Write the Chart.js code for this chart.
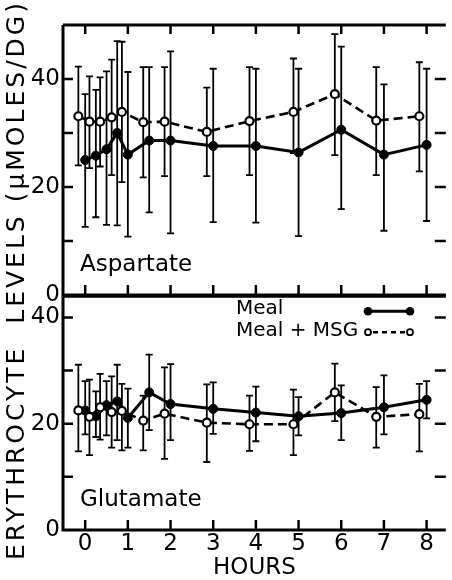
<!DOCTYPE html>
<html>
<head>
    <title>Erythrocyte aspartate and glutamate</title>
    <script src="https://cdn.jsdelivr.net/npm/chart.js"></script>
    <style>
        body {
            margin: 0;
            background-color: #ffffff;
        }
        #wrap {
            position: relative;
            width: 452px;
            height: 580px;
            overflow: hidden;
            background: #fff;
        }
        canvas {
            position: absolute;
            left: 0;
        }
        #topChart { top: 0; }
        #botChart { top: 290px; }
        #yTitle {
            position: absolute;
            left: -274px;
            top: 265px;
            width: 580px;
            line-height: 30px;
            text-align: center;
            white-space: nowrap;
            font-family: "DejaVu Sans", sans-serif;
            font-size: 25px;
            letter-spacing: 3px;
            color: #000;
            transform: rotate(-90deg);
        }
    </style>
</head>
<body>
<div id="wrap">
    <canvas id="topChart" width="452" height="310"></canvas>
    <canvas id="botChart" width="452" height="290"></canvas>
    <div id="yTitle">ERYTHROCYTE&nbsp;&nbsp;LEVELS (μMOLES/DG)</div>
</div>

<script>
    // hours (MSG points are drawn slightly to the left, as in the figure)
    const mealHours = [0, 0.25, 0.5, 0.75, 1, 1.5, 2, 3, 4, 5, 6, 7, 8];
    const msgHours = [-0.16, 0.1, 0.35, 0.62, 0.86, 1.36, 1.86, 2.85, 3.85, 4.88, 5.85, 6.82, 7.83];

    // Aspartate
    const aspMeal   = [25.0, 25.8, 27.0, 30.0, 26.0, 28.6, 28.6, 27.6, 27.6, 26.4, 30.6, 26.0, 27.8];
    const aspMealLo = [12.6, 14.4, 13.0, 12.9, 10.8, 15.3, 11.4, 13.5, 13.4, 10.9, 15.9, 11.9, 13.7];
    const aspMealHi = [37.2, 38.0, 41.4, 47.0, 41.3, 42.2, 45.1, 41.9, 41.9, 41.9, 46.0, 39.0, 41.9];
    const aspMsg    = [33.1, 32.1, 32.1, 32.9, 33.9, 32.0, 32.1, 30.2, 32.2, 33.9, 37.2, 32.3, 33.1];
    const aspMsgLo  = [24.0, 23.5, 23.8, 22.2, 20.9, 21.8, 22.0, 22.0, 22.2, 26.3, 25.9, 22.2, 22.9];
    const aspMsgHi  = [42.3, 40.5, 40.3, 43.6, 46.9, 42.2, 42.2, 38.4, 42.2, 43.8, 48.3, 42.2, 43.1];

    // Glutamate
    const gluMeal   = [22.5, 21.4, 23.5, 24.2, 21.1, 25.9, 23.7, 22.8, 22.1, 21.4, 22.0, 23.1, 24.5];
    const gluMealLo = [18.0, 17.5, 17.8, 16.9, 15.5, 18.8, 16.9, 18.1, 16.7, 17.8, 16.9, 18.0, 21.0];
    const gluMealHi = [28.0, 26.1, 28.0, 31.1, 26.6, 33.0, 31.2, 27.8, 27.0, 25.0, 27.2, 29.1, 28.0];
    const gluMsg    = [22.5, 21.3, 23.1, 22.2, 22.4, 20.6, 21.9, 20.2, 19.9, 19.9, 25.9, 21.3, 21.8];
    const gluMsgLo  = [14.8, 14.1, 17.0, 15.5, 15.0, 15.0, 13.4, 12.8, 14.9, 14.1, 20.5, 15.5, 14.8];
    const gluMsgHi  = [31.1, 28.3, 29.4, 28.9, 27.5, 25.3, 30.6, 27.4, 25.3, 26.4, 31.3, 26.9, 27.5];

    const xTicks = [0, 1, 2, 3, 4, 5, 6, 7, 8];
    const yLabels = [0, 20, 40];
    const yMinor = [10, 20, 30, 40];

    const FONT = 'DejaVu Sans';

    function series(label, hours, vals, lo, hi, filled) {
        return {
            label,
            data: hours.map((h, i) => ({ x: h, y: vals[i] })),
            errLo: lo,
            errHi: hi,
            showLine: true,
            borderColor: '#000',
            borderWidth: filled ? 3 : 2.6,
            borderDash: filled ? [] : [9, 5],
            pointRadius: filled ? 4.5 : 4,
            pointBorderWidth: filled ? 1 : 2.2,
            pointBackgroundColor: filled ? '#000' : '#fff',
            pointBorderColor: '#000'
        };
    }

    const errorBars = {
        id: 'errorBars',
        beforeDatasetsDraw(chart) {
            const { ctx, scales: { x, y } } = chart;
            ctx.save();
            ctx.strokeStyle = '#000';
            ctx.lineWidth = 1.8;
            chart.data.datasets.forEach(ds => {
                ds.data.forEach((p, i) => {
                    const px = x.getPixelForValue(p.x);
                    const y1 = y.getPixelForValue(ds.errLo[i]);
                    const y2 = y.getPixelForValue(ds.errHi[i]);
                    ctx.beginPath();
                    ctx.moveTo(px, y1); ctx.lineTo(px, y2);
                    ctx.moveTo(px - 3.5, y1); ctx.lineTo(px + 3.5, y1);
                    ctx.moveTo(px - 3.5, y2); ctx.lineTo(px + 3.5, y2);
                    ctx.stroke();
                });
            });
            ctx.restore();
        }
    };

    const frame = {
        id: 'frame',
        afterDraw(chart, args, opts) {
            const { ctx, chartArea: a, scales: { x, y } } = chart;
            ctx.save();
            ctx.strokeStyle = '#000';
            ctx.lineWidth = 3;
            ctx.beginPath();
            ctx.moveTo(a.left, a.top); ctx.lineTo(a.left, a.bottom);
            ctx.moveTo(a.left, a.top); ctx.lineTo(a.right, a.top);
            ctx.moveTo(a.left - 1.5, a.bottom); ctx.lineTo(a.right, a.bottom);
            ctx.stroke();

            ctx.lineWidth = 2.5;
            ctx.beginPath();
            xTicks.forEach(h => {
                const px = x.getPixelForValue(h);
                if (opts.topTicks) { ctx.moveTo(px, a.top); ctx.lineTo(px, a.top + 9); }
                ctx.moveTo(px, a.bottom); ctx.lineTo(px, a.bottom - 10);
            });
            yMinor.forEach(v => {
                const py = y.getPixelForValue(v);
                ctx.moveTo(a.left, py); ctx.lineTo(a.left + 10, py);
                ctx.moveTo(a.right, py); ctx.lineTo(a.right - 11, py);
            });
            ctx.stroke();

            ctx.fillStyle = '#000';
            ctx.font = '23px "' + FONT + '"';
            ctx.textBaseline = 'middle';
            ctx.textAlign = 'left';
            ctx.fillText(opts.label, a.left + 17, a.bottom - 30);

            if (opts.legend) {
                ctx.font = '20px "' + FONT + '"';
                ctx.fillText('Meal', 236, a.top + 13);
                ctx.fillText('Meal + MSG', 236, a.top + 35);
                const ly1 = a.top + 15, ly2 = a.top + 36;
                ctx.lineWidth = 3;
                ctx.beginPath();
                ctx.moveTo(368, ly1); ctx.lineTo(410, ly1);
                ctx.stroke();
                [368, 410].forEach(cx => {
                    ctx.beginPath(); ctx.arc(cx, ly1, 4.3, 0, Math.PI * 2); ctx.fill();
                });
                ctx.lineWidth = 2.5;
                ctx.setLineDash([5, 4]);
                ctx.beginPath();
                ctx.moveTo(373, ly2); ctx.lineTo(406, ly2);
                ctx.stroke();
                ctx.setLineDash([]);
                ctx.lineWidth = 1.8;
                ctx.fillStyle = '#fff';
                [368, 410].forEach(cx => {
                    ctx.beginPath(); ctx.arc(cx, ly2, 3, 0, Math.PI * 2); ctx.fill(); ctx.stroke();
                });
            }
            ctx.restore();
        }
    };

    function noPad(s) {
        s.paddingTop = 0; s.paddingBottom = 0; s.paddingLeft = 0; s.paddingRight = 0;
    }

    function yScale(max) {
        return {
            min: 0,
            max: max,
            grid: { display: false, drawTicks: false },
            border: { display: false },
            afterBuildTicks: s => { s.ticks = yLabels.map(v => ({ value: v })); },
            afterFit: s => { s.width = 63; noPad(s); },
            ticks: {
                color: '#000',
                padding: 3,
                font: { family: FONT, size: 23 }
            }
        };
    }

    new Chart(document.getElementById('topChart'), {
        type: 'scatter',
        data: {
            datasets: [
                series('Meal + MSG', msgHours, aspMsg, aspMsgLo, aspMsgHi, false),
                series('Meal', mealHours, aspMeal, aspMealLo, aspMealHi, true)
            ]
        },
        options: {
            responsive: false,
            animation: false,
            layout: { padding: { top: 25, bottom: 15, left: 0, right: 0 } },
            plugins: {
                legend: { display: false },
                tooltip: { enabled: false },
                frame: { label: 'Aspartate', topTicks: true }
            },
            scales: {
                x: { type: 'linear', min: -0.52, max: 8.45, display: false },
                y: yScale(50)
            }
        },
        plugins: [errorBars, frame]
    });

    new Chart(document.getElementById('botChart'), {
        type: 'scatter',
        data: {
            datasets: [
                series('Meal + MSG', msgHours, gluMsg, gluMsgLo, gluMsgHi, false),
                series('Meal', mealHours, gluMeal, gluMealLo, gluMealHi, true)
            ]
        },
        options: {
            responsive: false,
            animation: false,
            layout: { padding: { top: 5, bottom: 0, left: 0, right: 0 } },
            plugins: {
                legend: { display: false },
                tooltip: { enabled: false },
                frame: { label: 'Glutamate', topTicks: false, legend: true }
            },
            scales: {
                x: {
                    type: 'linear',
                    min: -0.52,
                    max: 8.45,
                    grid: { display: false, drawTicks: false },
                    border: { display: false },
                    afterBuildTicks: s => { s.ticks = xTicks.map(v => ({ value: v })); },
                    afterFit: s => { s.height = 50; noPad(s); },
                    ticks: {
                        color: '#000',
                        padding: 0,
                        maxRotation: 0,
                        font: { family: FONT, size: 23 }
                    },
                    title: {
                        display: true,
                        text: 'HOURS',
                        color: '#000',
                        padding: 0,
                        font: { family: FONT, size: 23, lineHeight: 1 }
                    }
                },
                y: yScale(44)
            }
        },
        plugins: [errorBars, frame]
    });
</script>
</body>
</html>
